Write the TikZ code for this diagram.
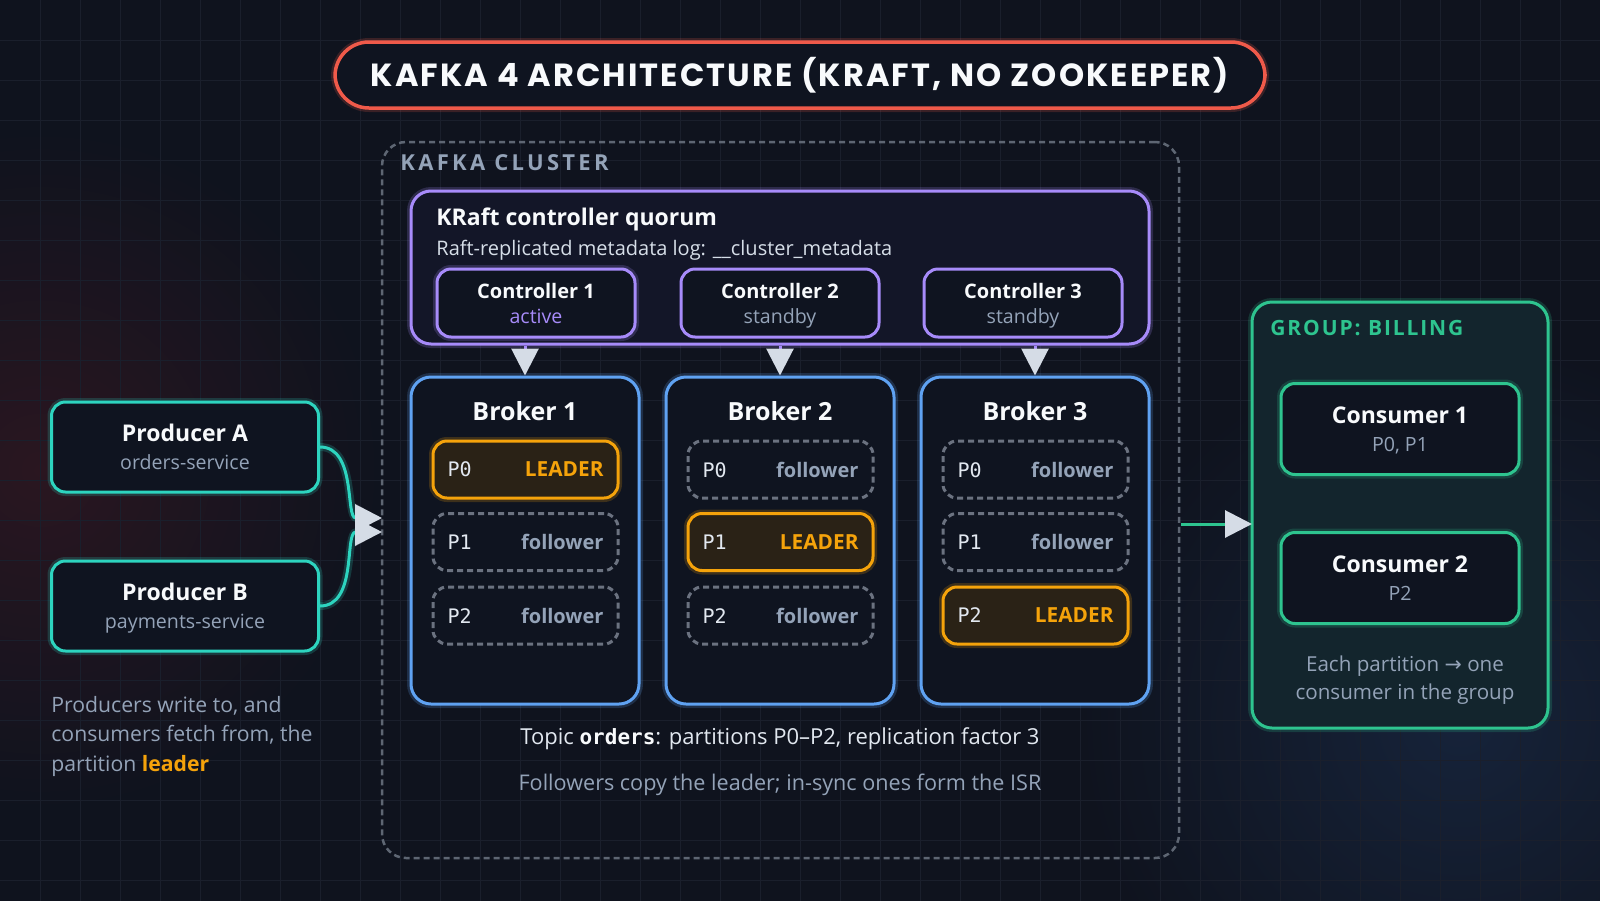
\documentclass[tikz,border=0pt]{standalone}
\usepackage{fontspec}
\setmainfont{Open Sans}
\setmonofont{DejaVu Sans Mono}
\newfontfamily\titlefont[LetterSpace=6.5]{Poppins}
\newfontfamily\headfont[LetterSpace=15]{Open Sans}
\newfontfamily\groupfont[LetterSpace=9]{Open Sans}
\newfontfamily\arrowfont{DejaVu Sans}
\usetikzlibrary{positioning,arrows.meta}

\definecolor{bgc}{HTML}{0F131E}
\definecolor{gridc}{HTML}{1A1F2C}
\definecolor{redglow}{HTML}{2A1620}
\definecolor{blueglow}{HTML}{16233A}
\definecolor{titlered}{HTML}{EF5A4A}
\definecolor{clustergray}{HTML}{5E6673}
\definecolor{quorumpurple}{HTML}{A78BFA}
\definecolor{quorumfill}{HTML}{131628}
\definecolor{brokerblue}{HTML}{5FA2F2}
\definecolor{leaderorange}{HTML}{F5A30B}
\definecolor{leaderfill}{HTML}{2A2216}
\definecolor{followergray}{HTML}{6B7280}
\definecolor{prodteal}{HTML}{2DD4BF}
\definecolor{groupgreen}{HTML}{2EC48F}
\definecolor{groupfill}{HTML}{13252D}
\definecolor{boxfill}{HTML}{0F1420}
\definecolor{textwhite}{HTML}{F8FAFC}
\definecolor{subgray}{HTML}{94A3B8}
\definecolor{lightgray}{HTML}{E2E8F0}
\definecolor{tipc}{HTML}{D5DCE6}

\tikzset{
  gridline/.style={draw=gridc,line width=0.5pt},
  glow/.style={preaction={draw=#1,line width=4pt,opacity=0.2}},
  kbox/.style={rounded corners=7pt,line width=1.5pt,fill=boxfill,text=textwhite,align=center,inner sep=0pt},
  titlebox/.style={kbox,draw=titlered,glow=titlered,rounded corners=17pt,line width=1.75pt,
    minimum width=465pt,minimum height=33pt,font=\titlefont\bfseries\fontsize{16}{19}\selectfont},
  clusterbox/.style={draw=clustergray,line width=1.25pt,dash pattern=on 3pt off 2pt,rounded corners=12pt,
    minimum width=398.5pt,minimum height=358pt},
  clusterhead/.style={font=\headfont\bfseries\fontsize{11}{13}\selectfont,inner sep=0pt},
  grouphead/.style={font=\groupfont\bfseries\fontsize{10.5}{12}\selectfont,inner sep=0pt},
  quorumbox/.style={kbox,draw=quorumpurple,fill=quorumfill,glow=quorumpurple,rounded corners=10pt,
    minimum width=369pt,minimum height=76.5pt},
  ctrlbox/.style={kbox,draw=quorumpurple,minimum width=99pt,minimum height=34pt,
    font=\bfseries\fontsize{10}{12.5}\selectfont},
  brokerbox/.style={kbox,draw=brokerblue,glow=brokerblue,rounded corners=10pt,
    minimum width=114pt,minimum height=163.5pt},
  brokertitle/.style={text=textwhite,font=\bfseries\fontsize{12.5}{14}\selectfont,inner sep=0pt},
  leaderbox/.style={kbox,draw=leaderorange,fill=leaderfill,glow=leaderorange,
    minimum width=92.5pt,minimum height=28.5pt,text width=78pt,align=left,
    font=\bfseries\fontsize{10.4}{12}\selectfont},
  followerbox/.style={kbox,draw=followergray,dash pattern=on 3pt off 2pt,
    minimum width=92.5pt,minimum height=28.5pt,text width=78pt,align=left,
    font=\bfseries\fontsize{10}{12}\selectfont},
  prodbox/.style={kbox,draw=prodteal,glow=prodteal,minimum width=133.5pt,minimum height=45pt,
    font=\bfseries\fontsize{11.5}{14}\selectfont},
  groupbox/.style={kbox,draw=groupgreen,fill=groupfill,glow=groupgreen,rounded corners=10pt,
    minimum width=148pt,minimum height=213pt},
  consbox/.style={kbox,draw=groupgreen,glow=groupgreen,minimum width=119pt,minimum height=45.5pt,
    font=\bfseries\fontsize{11.5}{14}\selectfont},
  notetext/.style={text=subgray,inner sep=0pt,font=\fontsize{10.6}{14.75}\selectfont},
  ctrlarrow/.style={draw=quorumpurple,line width=1.5pt,-{Triangle[length=13.5pt,width=13.5pt,color=tipc]}},
  prodarrow/.style={draw=prodteal,line width=1.5pt,glow=prodteal,-{Triangle[length=13.5pt,width=13.5pt,color=tipc]}},
  consarrow/.style={draw=groupgreen,line width=1.5pt,-{Triangle[length=13.5pt,width=13.5pt,color=tipc]}}
}

\newcommand{\ptag}[1]{{\mdseries\ttfamily\fontsize{10}{12}\selectfont\color{lightgray}#1}}
\newcommand{\subline}[1]{{\mdseries\fontsize{9.8}{14}\selectfont\color{subgray}\raisebox{0pt}[\height][0pt]{#1}}}

\begin{document}
\begin{tikzpicture}[x=0.5pt,y=-0.5pt]
  \useasboundingbox (0,0) rectangle (1600,900);
  % background
  \begin{scope}
    \clip (-10,-10) rectangle (1610,910);
    \fill[bgc] (-10,-10) rectangle (1610,910);
    \shade[inner color=redglow,outer color=bgc] (40,470) circle (170pt);
    \shade[inner color=blueglow,outer color=bgc] (1460,720) circle (190pt);
    \foreach \x in {40,80,...,1560} \draw[gridline] (\x,-10) -- (\x,910);
    \foreach \y in {40,80,...,880} \draw[gridline] (-10,\y) -- (1610,\y);
  \end{scope}

  % title
  \node[titlebox] (title) at (800,75) {KAFKA 4 ARCHITECTURE (KRAFT, NO ZOOKEEPER)};

  % cluster
  \node[clusterbox] (cluster) at (780.5,500) {};
  \node[clusterhead,text=subgray,anchor=west] (clabel) at (400,163) {KAFKA CLUSTER};

  % controller quorum
  \node[quorumbox] (quorum) at (780,267.5) {};
  \node[anchor=west,inner sep=0pt,text=textwhite,font=\bfseries\fontsize{11.5}{13}\selectfont] (qtitle) at (436,219) {KRaft controller quorum};
  \node[anchor=west,inner sep=0pt,text=lightgray!85!subgray,font=\fontsize{10}{12}\selectfont] (qsub) at (436,250) {Raft-replicated metadata log: \_\_cluster\_metadata};
  \node[ctrlbox,glow=quorumpurple] (c1) at (536,303) {Controller 1\\\subline{\color{quorumpurple}active}};
  \node[ctrlbox] (c2) at (780,303) {Controller 2\\\subline{standby}};
  \node[ctrlbox] (c3) at (1023,303) {Controller 3\\\subline{standby}};

  % brokers
  \node[brokerbox] (b1) at (525,540.5) {};
  \node[brokerbox] (b2) at (780,540.5) {};
  \node[brokerbox] (b3) at (1035,540.5) {};
  \draw[ctrlarrow] (quorum.south -| b1.north) -- (b1.north);
  \draw[ctrlarrow] (quorum.south -| b2.north) -- (b2.north);
  \draw[ctrlarrow] (quorum.south -| b3.north) -- (b3.north);
  \node[brokertitle] (b1t) at (525,411) {Broker 1};
  \node[brokertitle] (b2t) at (780,411) {Broker 2};
  \node[brokertitle] (b3t) at (1035,411) {Broker 3};

  % partitions
  \node[leaderbox] (b1p0) at (525.5,469.5) {\ptag{P0}\hfill{\color{leaderorange}LEADER}};
  \node[followerbox] (b1p1) at (525.5,542) {\ptag{P1}\hfill{\color{subgray}follower}};
  \node[followerbox] (b1p2) at (525.5,615.5) {\ptag{P2}\hfill{\color{subgray}follower}};
  \node[followerbox] (b2p0) at (780.5,469.5) {\ptag{P0}\hfill{\color{subgray}follower}};
  \node[leaderbox] (b2p1) at (780.5,542) {\ptag{P1}\hfill{\color{leaderorange}LEADER}};
  \node[followerbox] (b2p2) at (780.5,615.5) {\ptag{P2}\hfill{\color{subgray}follower}};
  \node[followerbox] (b3p0) at (1035.5,469.5) {\ptag{P0}\hfill{\color{subgray}follower}};
  \node[followerbox] (b3p1) at (1035.5,542) {\ptag{P1}\hfill{\color{subgray}follower}};
  \node[leaderbox] (b3p2) at (1035.5,615.5) {\ptag{P2}\hfill{\color{leaderorange}LEADER}};

  \node[text=lightgray,inner sep=0pt,font=\fontsize{11}{13}\selectfont] (topic) at (780,739)
    {Topic {\bfseries\ttfamily\fontsize{10.5}{13}\selectfont\color{textwhite}orders}: partitions P0--P2, replication factor 3};
  \node[text=subgray,inner sep=0pt,font=\fontsize{10.8}{13}\selectfont] (isr) at (780,785)
    {Followers copy the leader; in-sync ones form the ISR};

  % producers
  \node[prodbox] (prodA) at (185,447) {Producer A\\\subline{orders-service}};
  \node[prodbox] (prodB) at (185,606) {Producer B\\\subline{payments-service}};
  \coordinate (inA) at (382,518);
  \coordinate (inB) at (382,532);
  \draw[prodarrow] (prodA.east) to[out=0,in=180] (inA);
  \draw[prodarrow] (prodB.east) to[out=0,in=180] (inB);
  \node[notetext,anchor=west,align=left] (pnote) at (51,736)
    {Producers write to, and\\consumers fetch from, the\\partition {\bfseries\color{leaderorange}leader}};

  % consumer group
  \node[groupbox] (group) at (1400,515) {};
  \node[grouphead,text=groupgreen,anchor=west] (glabel) at (1270,328) {GROUP: BILLING};
  \node[consbox] (cons1) at (1400,429) {Consumer 1\\\subline{P0, P1}};
  \node[consbox] (cons2) at (1400,578) {Consumer 2\\\subline{P2}};
  \coordinate (outC) at (1181,524);
  \coordinate (inG) at (1252,524);
  \draw[consarrow] (outC) -- (inG);
  \node[notetext,align=center,font=\fontsize{10.3}{13.8}\selectfont] (gnote) at (1405,680)
    {Each partition {\arrowfont →} one\\consumer in the group};
\end{tikzpicture}
\end{document}
